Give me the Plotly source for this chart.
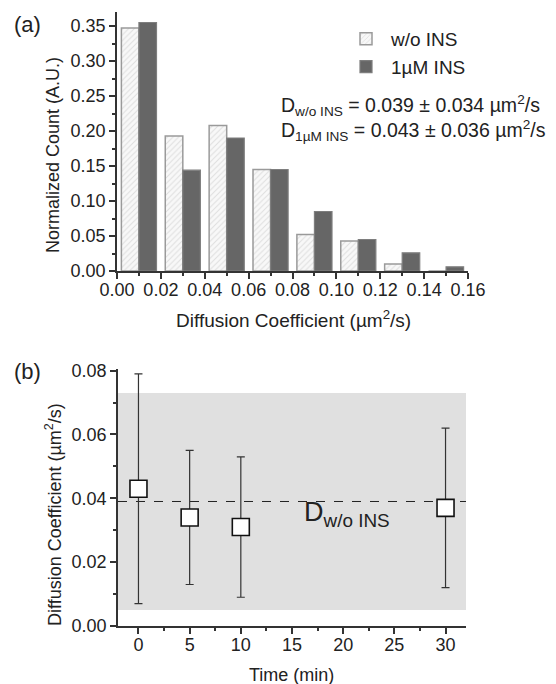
import plotly.graph_objects as go

# ---------------- data ----------------
bin_centers = [0.01, 0.03, 0.05, 0.07, 0.09, 0.11, 0.13, 0.15]
count_wo_ins = [0.347, 0.193, 0.208, 0.145, 0.052, 0.043, 0.010, 0.0]
count_1um_ins = [0.355, 0.144, 0.190, 0.145, 0.085, 0.045, 0.026, 0.006]

time_min = [0, 5, 10, 30]
diff_coef = [0.043, 0.034, 0.031, 0.037]
diff_err = [0.036, 0.021, 0.022, 0.025]

d_wo_mean = 0.039
d_wo_sd = 0.034

FONT = "Liberation Sans, Arial, Helvetica, sans-serif"
AX = "#333333"
OFF = 8                      # page body margin
W, H = 556 - OFF, 684 - OFF  # figure size

fig = go.Figure()

# ---------------- panel (a) ----------------
fig.add_trace(go.Bar(
    x=bin_centers, y=count_wo_ins, name="w/o INS",
    marker=dict(color="#f6f6f6",
                line=dict(color="#9a9a9a", width=1.5),
                pattern=dict(shape="/", fgcolor="#c4c4c4", bgcolor="#f8f8f8",
                             size=4, solidity=0.25)),
    xaxis="x", yaxis="y"))
fig.add_trace(go.Bar(
    x=bin_centers, y=count_1um_ins, name="1\u00b5M INS",
    marker=dict(color="#666666", line=dict(color="#7e7e7e", width=1.2)),
    xaxis="x", yaxis="y"))

# ---------------- panel (b) ----------------
fig.add_trace(go.Scatter(
    x=[-2, 32], y=[d_wo_mean, d_wo_mean], mode="lines",
    line=dict(color="#222222", width=1, dash="dash"),
    showlegend=False, hoverinfo="skip", xaxis="x2", yaxis="y2"))
fig.add_trace(go.Scatter(
    x=time_min, y=diff_coef, mode="markers",
    marker=dict(symbol="square", size=17, color="white",
                line=dict(color="#111111", width=1.6)),
    error_y=dict(type="data", array=diff_err, visible=True,
                 color="#333333", thickness=1.2, width=4),
    showlegend=False, xaxis="x2", yaxis="y2"))


def px_x(p):
    return (p - OFF) / W


def px_y(p):
    return 1 - (p - OFF) / H


axis_common = dict(showline=True, linecolor=AX, linewidth=1.5, ticks="outside",
                   ticklen=6, tickwidth=1.5, tickcolor=AX, showgrid=False,
                   zeroline=False, mirror=False, automargin=False,
                   tickfont=dict(family=FONT, size=18, color="#222"))

fig.update_layout(
    width=W, height=H, autosize=False,
    margin=dict(l=0, r=0, t=0, b=0),
    paper_bgcolor="white", plot_bgcolor="rgba(0,0,0,0)",
    font=dict(family=FONT, color="#222"),
    barmode="group", bargap=0.2, bargroupgap=0,
    xaxis=dict(domain=[px_x(117), px_x(468)], range=[0, 0.16], dtick=0.02,
               tickformat=".2f", anchor="y", ticklabelstandoff=-4,
               minor=dict(dtick=0.01, ticklen=3, tickcolor=AX, ticks="outside"),
               **axis_common),
    yaxis=dict(domain=[px_y(271), px_y(12)], range=[0, 0.37], dtick=0.05,
               tickformat=".2f", anchor="x",
               minor=dict(dtick=0.025, ticklen=3, tickcolor=AX, ticks="outside"),
               **axis_common),
    xaxis2=dict(domain=[px_x(118), px_x(466)], range=[-2, 32], dtick=5,
                anchor="y2", ticklabelstandoff=-4,
                minor=dict(dtick=2.5, ticklen=3, tickcolor=AX, ticks="outside"),
                **axis_common),
    yaxis2=dict(domain=[px_y(626), px_y(369)], range=[0, 0.0805], dtick=0.02,
                tickformat=".2f", anchor="x2",
                minor=dict(dtick=0.01, ticklen=3, tickcolor=AX, ticks="outside"),
                **axis_common),
    legend=dict(x=px_x(341), y=px_y(20), xanchor="left", yanchor="top",
                bgcolor="rgba(0,0,0,0)", font=dict(family=FONT, size=19, color="#222"),
                itemwidth=40, tracegroupgap=2),
)

# gray band = mean +/- sd
fig.add_shape(type="rect", xref="x2 domain", yref="y2", x0=0, x1=1,
              y0=d_wo_mean - d_wo_sd, y1=d_wo_mean + d_wo_sd,
              fillcolor="#e0e0e0", line=dict(width=0), layer="below")

ann = []
# panel labels
ann.append(dict(text="(a)", x=px_x(12), y=px_y(24), xref="paper", yref="paper",
                xanchor="left", yanchor="middle", showarrow=False,
                font=dict(size=22, family=FONT, color="#222")))
ann.append(dict(text="(b)", x=px_x(12), y=px_y(371), xref="paper", yref="paper",
                xanchor="left", yanchor="middle", showarrow=False,
                font=dict(size=22, family=FONT, color="#222")))
# statistics text
ann.append(dict(text="D<sub>w/o INS</sub> = 0.039 \u00b1 0.034 \u00b5m<sup>2</sup>/s",
                x=px_x(279), y=px_y(106), xref="paper", yref="paper",
                xanchor="left", yanchor="middle", showarrow=False,
                font=dict(size=19.5, family=FONT, color="#222")))
ann.append(dict(text="D<sub>1\u00b5M INS</sub> = 0.043 \u00b1 0.036 \u00b5m<sup>2</sup>/s",
                x=px_x(279), y=px_y(130), xref="paper", yref="paper",
                xanchor="left", yanchor="middle", showarrow=False,
                font=dict(size=19.5, family=FONT, color="#222")))
# axis titles
ann.append(dict(text="Diffusion Coefficient (\u00b5m<sup>2</sup>/s)",
                x=px_x(293), y=px_y(319), xref="paper", yref="paper",
                xanchor="center", yanchor="middle", showarrow=False,
                font=dict(size=19, family=FONT, color="#222")))
ann.append(dict(text="Normalized Count (A.U.)", textangle=-90,
                x=px_x(53), y=px_y(155), xref="paper", yref="paper",
                xanchor="center", yanchor="middle", showarrow=False,
                font=dict(size=18, family=FONT, color="#222")))
ann.append(dict(text="Diffusion Coefficient (\u00b5m<sup>2</sup>/s)", textangle=-90,
                x=px_x(53), y=px_y(515), xref="paper", yref="paper",
                xanchor="center", yanchor="middle", showarrow=False,
                font=dict(size=18, family=FONT, color="#222")))
ann.append(dict(text="Time (min)",
                x=px_x(291), y=px_y(675), xref="paper", yref="paper",
                xanchor="center", yanchor="middle", showarrow=False,
                font=dict(size=18, family=FONT, color="#222")))
# D w/o INS label in panel (b)
ann.append(dict(text="D<sub>w/o INS</sub>", x=16, y=d_wo_mean, xref="x2", yref="y2",
                xanchor="left", yanchor="top", yshift=6, showarrow=False,
                font=dict(size=27, family=FONT, color="#222")))
fig.update_layout(annotations=ann)

fig.write_html("out.html")
